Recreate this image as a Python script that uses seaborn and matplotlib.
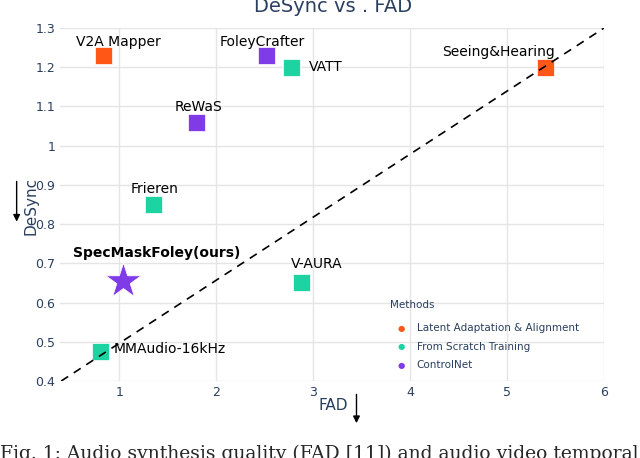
import matplotlib.pyplot as plt
import seaborn as sns
import pandas as pd

names = ['V2A Mapper', 'FoleyCrafter', 'VATT', 'Seeing&Hearing', 'ReWaS', 'Frieren',
         'SpecMaskFoley(ours)', 'V-AURA', 'MMAudio-16kHz']
fad = [0.84, 2.52, 2.78, 5.40, 1.80, 1.35, 1.04, 2.88, 0.81]
desync = [1.23, 1.23, 1.20, 1.20, 1.06, 0.85, 0.655, 0.65, 0.475]
methods = ['Latent Adaptation & Alignment', 'ControlNet', 'From Scratch Training',
           'Latent Adaptation & Alignment', 'ControlNet', 'From Scratch Training',
           'ControlNet', 'From Scratch Training', 'From Scratch Training']
trend_x = [0.4, 6.0]
trend_y = [0.4, 1.3]

palette = {'Latent Adaptation & Alignment': '#FF5716',
           'From Scratch Training': '#1DD3A2',
           'ControlNet': '#7E3BE6'}
ink = '#2a3f5f'

df = pd.DataFrame({'name': names, 'FAD': fad, 'DeSync': desync, 'Methods': methods})
df['ours'] = df['name'].str.contains('ours')

sns.set_style('white')
fig = plt.figure(figsize=(6.4, 4.58), dpi=100)
ax = fig.add_axes([0.094, 0.168, 0.85, 0.771])

ax.plot(trend_x, trend_y, ls=(0, (5, 4)), color='black', lw=1.2, zorder=3)
sns.scatterplot(data=df[~df.ours], x='FAD', y='DeSync', hue='Methods', palette=palette,
                marker='s', s=150, edgecolor='white', linewidth=0.5, ax=ax, legend=False, zorder=2)
sns.scatterplot(data=df[df.ours], x='FAD', y='DeSync', hue='Methods', palette=palette,
                marker='*', s=700, edgecolor='white', linewidth=0.5, ax=ax, legend=False, zorder=2)

offsets = {'V2A Mapper': (-20, 10), 'FoleyCrafter': (-34, 10), 'VATT': (12, 0),
           'Seeing&Hearing': (-75, 11), 'ReWaS': (-16, 11), 'Frieren': (-16, 11),
           'SpecMaskFoley(ours)': (-36, 20), 'V-AURA': (-8, 14), 'MMAudio-16kHz': (9, 2)}
for n, x, y in zip(names, fad, desync):
    dx, dy = offsets[n]
    ax.annotate(n, (x, y), xytext=(dx, dy), textcoords='offset points', va='center',
                fontsize=10, color='black', fontweight='bold' if 'ours' in n else 'normal')

ax.set_xlim(0.39, 6.0)
ax.set_ylim(0.4, 1.3)
ax.set_xticks([1, 2, 3, 4, 5, 6])
ax.set_yticks([0.4, 0.5, 0.6, 0.7, 0.8, 0.9, 1.0, 1.1, 1.2, 1.3])
ax.set_yticklabels(['0.4', '0.5', '0.6', '0.7', '0.8', '0.9', '1', '1.1', '1.2', '1.3'])
ax.tick_params(colors=ink, labelsize=9, length=0)
ax.grid(True, color='#e5e5e5', lw=1)
for s in ax.spines.values():
    s.set_visible(False)
ax.set_xlabel('')
ax.set_ylabel('')
fig.text(0.52, 0.985, 'DeSync vs . FAD', color=ink, fontsize=14, ha='center', va='center')

fig.text(0.52, 0.115, 'FAD', color=ink, fontsize=11, ha='center', va='center')
ax.annotate('', xy=(0.557, 0.07), xytext=(0.557, 0.145), xycoords='figure fraction',
            arrowprops=dict(arrowstyle='-|>', color='black', lw=1))
fig.text(0.048, 0.55, 'DeSync', color=ink, fontsize=11, rotation=90, ha='center', va='center')
ax.annotate('', xy=(0.026, 0.51), xytext=(0.026, 0.61), xycoords='figure fraction',
            arrowprops=dict(arrowstyle='-|>', color='black', lw=1))

fig.text(0.61, 0.327, 'Methods', color=ink, fontsize=7.5)
for i, m in enumerate(['Latent Adaptation & Alignment', 'From Scratch Training', 'ControlNet']):
    yy = 0.283 - i * 0.04
    fig.text(0.627, yy, '\u25cf', color=palette[m], fontsize=6, ha='center', va='center')
    fig.text(0.651, yy, m, color=ink, fontsize=7.5, va='center')

fig.text(0.0, -0.012, 'Fig. 1: Audio synthesis quality (FAD [11]) and audio video temporal',
         family='DejaVu Serif', fontsize=13.5, va='bottom')

fig.savefig('out.png', dpi=100)
